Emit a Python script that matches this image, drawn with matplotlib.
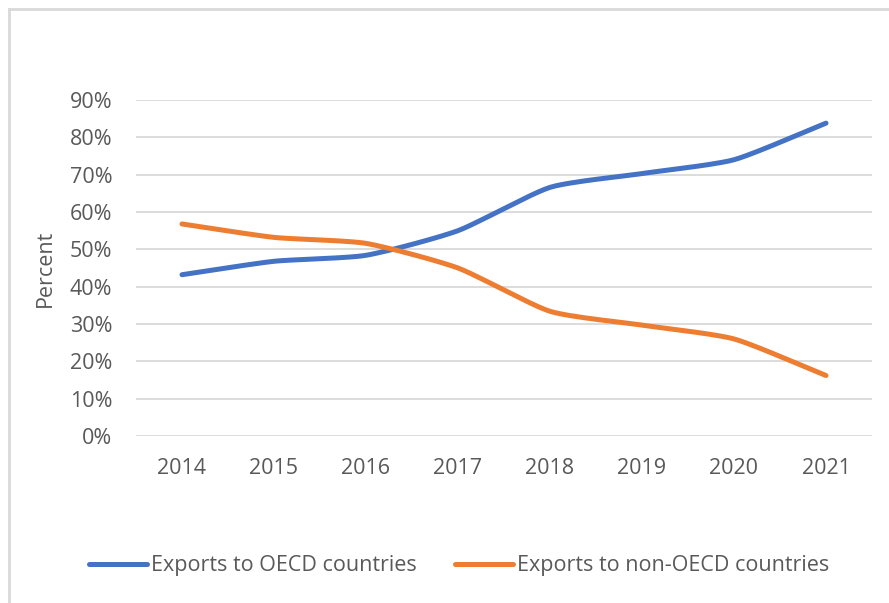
import numpy as np
import matplotlib
matplotlib.use("Agg")
import matplotlib.pyplot as plt
from matplotlib.lines import Line2D

years = ['2014', '2015', '2016', '2017', '2018', '2019', '2020', '2021']
oecd = [43.2, 46.8, 48.4, 55.0, 66.6, 70.3, 74.0, 83.8]
non_oecd = [56.8, 53.2, 51.6, 45.0, 33.4, 29.7, 26.0, 16.2]

plt.rcParams['font.family'] = ['Open Sans', 'DejaVu Sans']
text_col = '#595959'
fs = 15.5


def smooth(xs, ys, k=0.6, n=24):
    # hermite curve through the points with softened tangents (excel-ish smoothing)
    xs = np.asarray(xs, float)
    ys = np.asarray(ys, float)
    px = np.concatenate([[2 * xs[0] - xs[1]], xs, [2 * xs[-1] - xs[-2]]])
    py = np.concatenate([[2 * ys[0] - ys[1]], ys, [2 * ys[-1] - ys[-2]]])
    out_x, out_y = [], []
    t = np.linspace(0, 1, n)
    h00 = 2 * t ** 3 - 3 * t ** 2 + 1
    h10 = t ** 3 - 2 * t ** 2 + t
    h01 = -2 * t ** 3 + 3 * t ** 2
    h11 = t ** 3 - t ** 2
    for i in range(1, len(px) - 2):
        for p, out in ((px, out_x), (py, out_y)):
            m1 = k * (p[i + 1] - p[i - 1]) / 2
            m2 = k * (p[i + 2] - p[i]) / 2
            out.extend(h00 * p[i] + h10 * m1 + h01 * p[i + 1] + h11 * m2)
    return np.array(out_x), np.array(out_y)


fig = plt.figure(figsize=(8.89, 6.03), dpi=100)
ax = fig.add_axes([136 / 889, 1 - 436 / 603, (872 - 136) / 889, (436 - 100) / 603])

x = np.arange(len(years))
sx, sy = smooth(x, oecd)
ax.plot(sx, sy, color='#4472C4', lw=3.6, solid_capstyle='round', label='Exports to OECD countries')
sx, sy = smooth(x, non_oecd)
ax.plot(sx, sy, color='#ED7D31', lw=3.6, solid_capstyle='round', label='Exports to non-OECD countries')

ax.set_xlim(-0.5, len(years) - 0.5)
ax.set_ylim(0, 90)
ax.set_yticks(range(0, 91, 10))
ax.set_yticklabels([f'{v}%' for v in range(0, 91, 10)])
ax.set_xticks(x)
ax.set_xticklabels(years)
ax.tick_params(axis='both', length=0, labelsize=fs, colors=text_col)
ax.tick_params(axis='y', pad=17)
ax.tick_params(axis='x', pad=16)
ax.grid(axis='y', color='#D9D9D9', lw=1.3)
ax.set_axisbelow(True)
for s in ax.spines.values():
    s.set_visible(False)

fig.text(45 / 889, 1 - 268 / 603, 'Percent', rotation=90, ha='center', va='center',
         fontsize=fs, color=text_col)

leg = fig.legend(loc='center', bbox_to_anchor=(459 / 889, 1 - 566 / 603), ncol=2, frameon=False,
                 fontsize=fs, handlelength=2.7, handletextpad=0.2, columnspacing=1.75)
for t in leg.get_texts():
    t.set_color(text_col)

# chart frame (only top and left edges are visible in the crop)
fig.add_artist(Line2D([9 / 889, 9 / 889], [0, 1 - 9 / 603], color='#D9D9D9', lw=2))
fig.add_artist(Line2D([9 / 889, 1], [1 - 9 / 603, 1 - 9 / 603], color='#D9D9D9', lw=2))

fig.savefig('out.png', dpi=100)
